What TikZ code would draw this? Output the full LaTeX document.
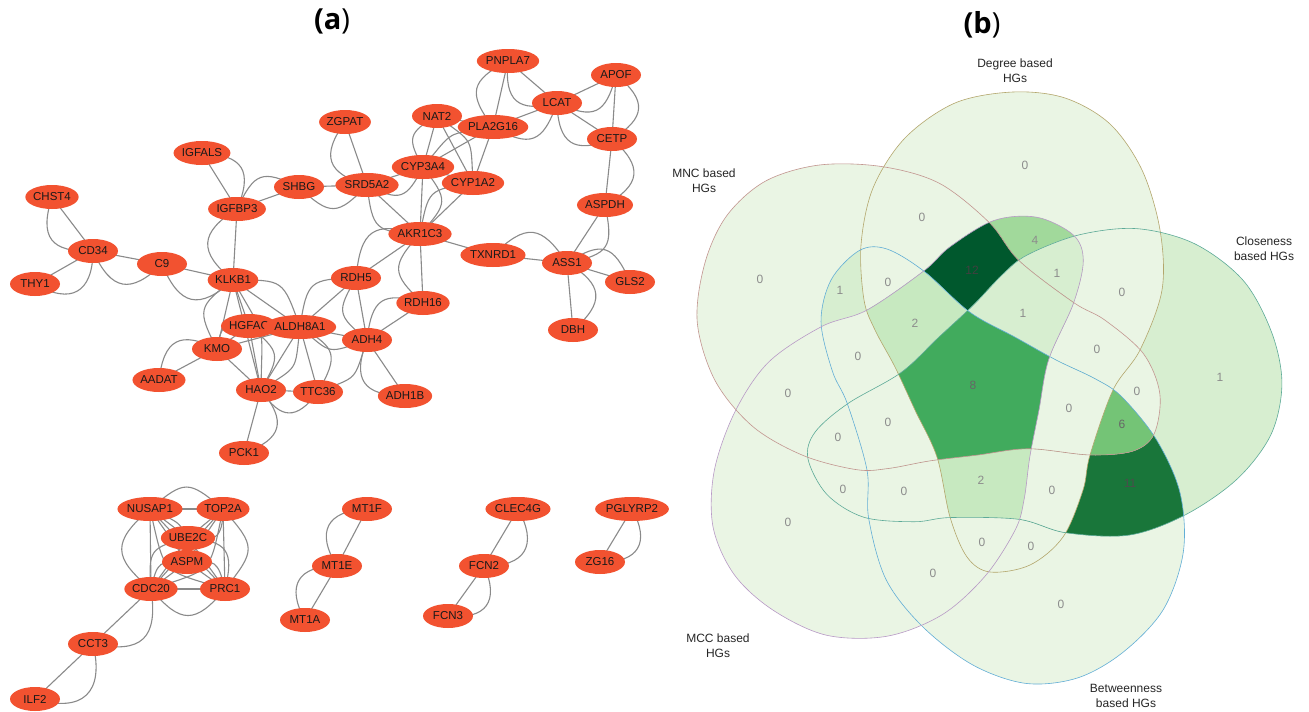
\documentclass[tikz,border=0pt]{standalone}
\usepackage{fontspec}
\setmainfont{Liberation Sans}
\newfontfamily\headfont{Open Sans}
\usetikzlibrary{shapes.geometric}
\pgfdeclarelayer{paper}
\pgfdeclarelayer{links}
\pgfsetlayers{paper,links,main}

\definecolor{gene}{HTML}{F25230}
\definecolor{link}{HTML}{8A8A8A}
\definecolor{v0}{HTML}{EAF5E4}
\definecolor{v1}{HTML}{D7EED0}
\definecolor{v2}{HTML}{C7E9C0}
\definecolor{v4}{HTML}{A1D99B}
\definecolor{v6}{HTML}{74C476}
\definecolor{v8}{HTML}{41AB5D}
\definecolor{v11}{HTML}{19763A}
\definecolor{v12}{HTML}{00582D}
\definecolor{lD}{HTML}{B3A66C}
\definecolor{lC}{HTML}{5DAA98}
\definecolor{lB}{HTML}{62AED6}
\definecolor{lM}{HTML}{B89AC6}
\definecolor{lN}{HTML}{C2958F}

% one set of the five-set diagram (the "Degree" set); the others are rotations of it
\newcommand\dshape{plot[smooth cycle,tension=0.55] coordinates {(990,572) (1030,565) (1063,537) (1083,490) (1090,455) (1113,390) (1140,350) (1162,290) (1160,230) (1142,170) (1110,124) (1065,98) (1013,92) (955,103) (905,138) (873,188) (861,245) (864,300) (875,330) (895,367) (915,410) (937,457) (950,517) (967,557)}}
\newcommand\cD{\clip \dshape;}
\newcommand\cC{\clip[rotate around={-72:(977,390)}] \dshape;}
\newcommand\cB{\clip[rotate around={-144:(977,390)}] \dshape;}
\newcommand\cM{\clip[rotate around={-216:(977,390)}] \dshape;}
\newcommand\cN{\clip[rotate around={-288:(977,390)}] \dshape;}
\newcommand\reg[2]{\begin{scope}#1\fill[#2] (650,0) rectangle (1309,712);\end{scope}}

\tikzset{
  gene/.style={ellipse, fill=gene, minimum width=50pt, minimum height=24pt, inner sep=0pt,
    font=\fontsize{11.5}{13}\selectfont, text=black!90},
  lk/.style={draw=link, line width=1.1pt},
  num/.style={font=\fontsize{12}{14}\selectfont, text=black!45, inner sep=0pt},
  setlabel/.style={font=\fontsize{12}{15}\selectfont, align=center, text=black!85, inner sep=0pt},
  outline/.style={line width=0.6pt},
}

\begin{document}
\begin{tikzpicture}[x=1pt,y=-1pt]
\useasboundingbox (0,0) rectangle (1309,712);
\begin{pgfonlayer}{paper}
  \fill[white] (0,0) rectangle (1309,712);
\end{pgfonlayer}

% ---------- panel titles ----------
\node[font=\headfont\fontsize{29}{31}\selectfont, inner sep=0pt] (ta) at (332,21) {\textbf{(a})};
\node[font=\headfont\fontsize{29}{31}\selectfont, inner sep=0pt] (tb) at (982,25) {\textbf{(b})};

% ---------- network (a) ----------
\node[gene] (IGFALS) at (202,153) {IGFALS};
\node[gene] (SHBG) at (299,187) {SHBG};
\node[gene] (IGFBP3) at (237,209) {IGFBP3};
\node[gene] (CHST4) at (52,197) {CHST4};
\node[gene] (CD34) at (93,251) {CD34};
\node[gene] (C9) at (162,264) {C9};
\node[gene] (THY1) at (35,284) {THY1};
\node[gene] (KLKB1) at (233,280) {KLKB1};
\node[gene] (HGFAC) at (249,326) {HGFAC};
\node[gene] (ALDH8A1) at (300,327) {ALDH8A1};
\node[gene] (KMO) at (217,349) {KMO};
\node[gene] (AADAT) at (159,380) {AADAT};
\node[gene] (HAO2) at (261,390) {HAO2};
\node[gene] (TTC36) at (318,392) {TTC36};
\node[gene] (PCK1) at (244,453) {PCK1};
\node[gene] (ZGPAT) at (345,122) {ZGPAT};
\node[gene] (PNPLA7) at (508,61) {PNPLA7};
\node[gene] (APOF) at (616,75) {APOF};
\node[gene] (LCAT) at (557,103) {LCAT};
\node[gene] (NAT2) at (437,116) {NAT2};
\node[gene] (PLA2G16) at (493,127) {PLA2G16};
\node[gene] (CETP) at (612,139) {CETP};
\node[gene] (CYP3A4) at (423,167) {CYP3A4};
\node[gene] (SRD5A2) at (367,185) {SRD5A2};
\node[gene] (CYP1A2) at (473,183) {CYP1A2};
\node[gene] (ASPDH) at (605,205) {ASPDH};
\node[gene] (AKR1C3) at (420,234) {AKR1C3};
\node[gene] (TXNRD1) at (493,255) {TXNRD1};
\node[gene] (ASS1) at (567,263) {ASS1};
\node[gene] (GLS2) at (630,282) {GLS2};
\node[gene] (DBH) at (573,330) {DBH};
\node[gene] (RDH5) at (356,278) {RDH5};
\node[gene] (RDH16) at (423,303) {RDH16};
\node[gene] (ADH4) at (367,340) {ADH4};
\node[gene] (ADH1B) at (405,396) {ADH1B};

\node[gene] (NUSAP1) at (150,509) {NUSAP1};
\node[gene] (TOP2A) at (223,509) {TOP2A};
\node[gene] (UBE2C) at (188,538) {UBE2C};
\node[gene] (ASPM) at (187,562) {ASPM};
\node[gene] (CDC20) at (151,589) {CDC20};
\node[gene] (PRC1) at (225,589) {PRC1};
\node[gene] (CCT3) at (93,644) {CCT3};
\node[gene] (ILF2) at (35,699) {ILF2};
\node[gene] (MT1F) at (367,509) {MT1F};
\node[gene] (MT1E) at (337,566) {MT1E};
\node[gene] (MT1A) at (305,620) {MT1A};
\node[gene] (CLEC4G) at (518,509) {CLEC4G};
\node[gene] (FCN2) at (484,566) {FCN2};
\node[gene] (FCN3) at (448,616) {FCN3};
\node[gene] (PGLYRP2) at (632,509) {PGLYRP2};
\node[gene] (ZG16) at (600,562) {ZG16};

\begin{pgfonlayer}{links}
  \foreach \a/\b in {IGFALS/IGFBP3, IGFBP3/SHBG, SHBG/SRD5A2, IGFBP3/KLKB1, CHST4/CD34,
      CD34/THY1, CD34/C9, C9/KLKB1, KLKB1/HGFAC, KLKB1/ALDH8A1, KLKB1/KMO, KLKB1/HAO2,
      HGFAC/ALDH8A1, HGFAC/KMO, HGFAC/HAO2, KMO/AADAT, KMO/HAO2, KMO/ALDH8A1,
      ALDH8A1/HAO2, ALDH8A1/TTC36, HAO2/TTC36, HAO2/PCK1, ALDH8A1/RDH5, ALDH8A1/ADH4,
      RDH5/ADH4, RDH5/AKR1C3, ADH4/RDH16, ADH4/ADH1B, RDH16/AKR1C3, AKR1C3/SRD5A2,
      AKR1C3/CYP3A4, AKR1C3/CYP1A2, AKR1C3/TXNRD1, SRD5A2/ZGPAT, SRD5A2/CYP3A4,
      CYP3A4/NAT2, CYP3A4/CYP1A2, CYP3A4/PLA2G16, NAT2/CYP1A2, NAT2/PLA2G16,
      PLA2G16/CYP1A2, PLA2G16/PNPLA7, PLA2G16/LCAT, PNPLA7/LCAT, LCAT/APOF, LCAT/CETP,
      APOF/CETP, CETP/ASPDH, ASPDH/ASS1, TXNRD1/ASS1, ASS1/GLS2, ASS1/DBH,
      NUSAP1/TOP2A, NUSAP1/UBE2C, NUSAP1/ASPM, NUSAP1/CDC20, NUSAP1/PRC1, TOP2A/UBE2C,
      TOP2A/ASPM, TOP2A/CDC20, TOP2A/PRC1, UBE2C/ASPM, UBE2C/CDC20, UBE2C/PRC1,
      ASPM/CDC20, ASPM/PRC1, CDC20/PRC1, CDC20/CCT3, CCT3/ILF2,
      MT1F/MT1E, MT1E/MT1A, CLEC4G/FCN2, FCN2/FCN3, PGLYRP2/ZG16}
    \draw[lk] (\a.center) -- (\b.center);
  % curved duplicates; a negative angle bends to the right
  \foreach \a/\b/\s in {IGFALS/IGFBP3/55, IGFBP3/SHBG/45, SHBG/SRD5A2/-45,
      IGFBP3/KLKB1/-55, CHST4/CD34/-55, CD34/THY1/60, CD34/C9/-55,
      C9/KLKB1/-55, KLKB1/KMO/-40, KLKB1/ALDH8A1/35, KLKB1/HAO2/15,
      HGFAC/HAO2/40, KMO/AADAT/-55, KMO/HGFAC/45, ALDH8A1/HAO2/25,
      ALDH8A1/TTC36/45, HAO2/TTC36/-55, HAO2/PCK1/55, ALDH8A1/ADH4/-30,
      RDH5/ADH4/-40, RDH5/AKR1C3/50, ADH4/RDH16/50, ADH4/ADH1B/-55,
      ADH4/TTC36/25, AKR1C3/SRD5A2/40, AKR1C3/CYP3A4/-40,
      AKR1C3/CYP1A2/35, AKR1C3/RDH16/-45, SRD5A2/ZGPAT/55,
      SRD5A2/CYP3A4/-45, CYP3A4/NAT2/45, CYP3A4/PLA2G16/20,
      NAT2/CYP1A2/25, PLA2G16/PNPLA7/50, PLA2G16/LCAT/-50,
      PNPLA7/LCAT/-55, LCAT/APOF/-50, LCAT/CETP/-55, APOF/CETP/55,
      CETP/ASPDH/55, ASPDH/ASS1/45, TXNRD1/ASS1/50, ASS1/GLS2/50,
      ASS1/DBH/55, RDH5/ALDH8A1/-40,
      NUSAP1/CDC20/-50, NUSAP1/PRC1/-30, NUSAP1/ASPM/30, TOP2A/PRC1/40,
      TOP2A/CDC20/30, TOP2A/UBE2C/50, UBE2C/PRC1/50, CDC20/PRC1/-50,
      ASPM/CDC20/-40, ASPM/PRC1/40, NUSAP1/TOP2A/40, UBE2C/CDC20/-40,
      CDC20/CCT3/55, CCT3/ILF2/60, MT1F/MT1E/-60, MT1E/MT1A/-60,
      CLEC4G/FCN2/60, FCN2/FCN3/60, PGLYRP2/ZG16/60}
    \draw[lk] (\a.center) to[bend left=\s, looseness=1.6] (\b.center);
\end{pgfonlayer}

% ---------- five-set diagram (b) ----------
% regions painted from single sets up to the full intersection
\reg{\cD}{v0}\reg{\cC}{v1}\reg{\cB}{v0}\reg{\cM}{v0}\reg{\cN}{v0}
\reg{\cD\cC}{v0}\reg{\cD\cB}{v0}\reg{\cD\cM}{v4}\reg{\cD\cN}{v0}\reg{\cC\cB}{v11}
\reg{\cC\cM}{v0}\reg{\cC\cN}{v0}\reg{\cB\cM}{v0}\reg{\cB\cN}{v1}\reg{\cM\cN}{v0}
\reg{\cD\cC\cB}{v0}\reg{\cD\cC\cM}{v1}\reg{\cD\cC\cN}{v0}\reg{\cD\cB\cM}{v0}\reg{\cD\cB\cN}{v0}
\reg{\cD\cM\cN}{v12}\reg{\cC\cB\cM}{v0}\reg{\cC\cB\cN}{v6}\reg{\cC\cM\cN}{v0}\reg{\cB\cM\cN}{v0}
\reg{\cD\cC\cB\cM}{v2}\reg{\cD\cC\cB\cN}{v0}\reg{\cD\cC\cM\cN}{v1}\reg{\cD\cB\cM\cN}{v2}\reg{\cC\cB\cM\cN}{v0}
\reg{\cD\cC\cB\cM\cN}{v8}

% set outlines
\draw[outline, lD] \dshape;
\draw[outline, lC, rotate around={-72:(977,390)}] \dshape;
\draw[outline, lB, rotate around={-144:(977,390)}] \dshape;
\draw[outline, lM, rotate around={-216:(977,390)}] \dshape;
\draw[outline, lN, rotate around={-288:(977,390)}] \dshape;

% region counts
\node[num] (r1) at (1025,165) {0};
\node[num] (r2) at (760,279) {0};
\node[num] (r3) at (922,217) {0};
\node[num] (r4) at (1035,240) {4};
\node[num, text=black!75] (r5) at (972,270) {12};
\node[num] (r6) at (1057,273) {1};
\node[num] (r7) at (888,282) {0};
\node[num] (r8) at (840,290) {1};
\node[num] (r9) at (1023,313) {1};
\node[num] (r10) at (1122,292) {0};
\node[num] (r11) at (1220,377) {1};
\node[num] (r12) at (915,323) {2};
\node[num] (r13) at (858,356) {0};
\node[num, text=black!60] (r14) at (973,385) {8};
\node[num] (r15) at (1097,349) {0};
\node[num] (r16) at (1137,391) {0};
\node[num] (r17) at (788,393) {0};
\node[num] (r18) at (888,422) {0};
\node[num] (r19) at (1069,408) {0};
\node[num, text=black!60] (r20) at (1122,424) {6};
\node[num] (r21) at (838,437) {0};
\node[num, text=black!70] (r22) at (1130,483) {11};
\node[num] (r23) at (843,489) {0};
\node[num] (r24) at (904,491) {0};
\node[num] (r25) at (981,480) {2};
\node[num] (r26) at (1052,490) {0};
\node[num] (r27) at (788,522) {0};
\node[num] (r28) at (982,542) {0};
\node[num] (r29) at (1031,546) {0};
\node[num] (r30) at (933,573) {0};
\node[num] (r31) at (1061,604) {0};

% set names
\node[setlabel] (sD) at (1015,71) {Degree based\\HGs};
\node[setlabel] (sN) at (704,181) {MNC based\\HGs};
\node[setlabel] (sC) at (1264,249) {Closeness\\based HGs};
\node[setlabel] (sM) at (718,646) {MCC based\\HGs};
\node[setlabel] (sB) at (1126,696) {Betweenness\\based HGs};
\end{tikzpicture}
\end{document}
